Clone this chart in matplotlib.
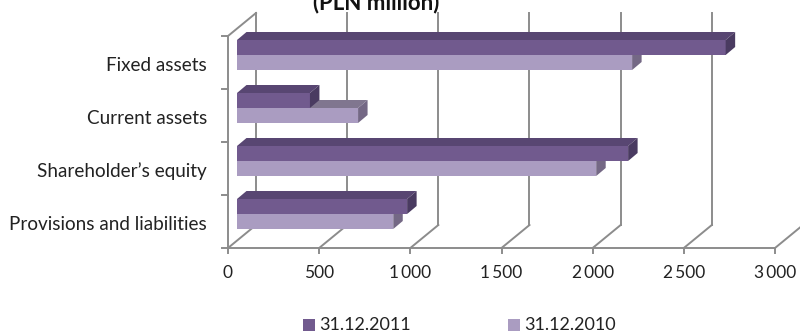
import matplotlib
matplotlib.use("Agg")
import matplotlib.pyplot as plt
from matplotlib.patches import Polygon
import numpy as np

categories = ["Provisions and liabilities", "Shareholder\u2019s equity", "Current assets", "Fixed assets"]
values_2011 = [933, 2145, 400, 2680]
values_2010 = [857, 1970, 664, 2167]
series_names = ["31.12.2011", "31.12.2010"]
xticks = [0, 500, 1000, 1500, 2000, 2500, 3000]
xtick_labels = ["0", "500", "1\u2009000", "1\u2009500", "2\u2009000", "2\u2009500", "3\u2009000"]
title = "(PLN million)"

plt.rcParams['font.family'] = ['Lato', 'DejaVu Sans']

W, H = 800, 334
fig = plt.figure(figsize=(W / 100, H / 100), dpi=100)
# front plane of the 3D box
x0px, x1px, ybot, ytop = 228, 775, 248, 36
ax = fig.add_axes([x0px / W, 1 - ybot / H, (x1px - x0px) / W, (ybot - ytop) / H])
XMAX = 3000
NC = len(categories)
ax.set_xlim(0, XMAX)
ax.set_ylim(0, NC)
ax.axis('off')

pxx = ax.bbox.width / XMAX   # pixels per x unit
pxy = ax.bbox.height / NC    # pixels per y unit
def off(dxp, dyp):
    return dxp / pxx, dyp / pxy

back = off(28, 23)
bfront = off(9, 7.5)
bback = off(18.5, 15.5)

grid_c = '#8C8C8C'
lw = 1.4
# back gridlines + floor diagonals
for v in xticks:
    ax.plot([v, v + back[0]], [0, back[1]], color=grid_c, lw=lw, clip_on=False, zorder=1)
    if v + back[0] < XMAX * 1.02:
        ax.plot([v + back[0], v + back[0]], [back[1], NC + back[1]], color=grid_c, lw=lw,
                clip_on=False, zorder=1)
    tdx, tdy = off(0, -5)
    ax.plot([v, v], [0, tdy], color=grid_c, lw=lw, clip_on=False, zorder=1)
for v, lab in zip(xticks, xtick_labels):
    ax.text(v, -24.5 / pxy, lab, ha='center', va='center', fontsize=12.5, color='#222222')
# floor front edge
ax.plot([0, XMAX], [0, 0], color=grid_c, lw=lw, clip_on=False, zorder=1)
# left wall front edge and top diagonal
ax.plot([0, 0], [0, NC], color=grid_c, lw=lw, clip_on=False, zorder=1)
ax.plot([0, back[0]], [NC, NC + back[1]], color=grid_c, lw=lw, clip_on=False, zorder=1)
tx, _ = off(-6, 0)
for i in range(NC + 1):
    ax.plot([tx, 0], [i, i], color=grid_c, lw=lw, clip_on=False, zorder=1)

# category labels
lx, _ = off(-21, 0)
for i, c in enumerate(categories):
    ax.text(lx, i + 0.5 - 3 / pxy, c, ha='right', va='center', fontsize=13.6, color='#222222')

bh = 15 / pxy
colors = {
    '2011': ('#715A8E', '#584672', '#4A3B61'),
    '2010': ('#AA9CC1', '#80768F', '#746885'),
}

def bar3d(y, w, h, cols, z):
    front, top, side = cols
    fx, fy = bfront
    bx, by = bback
    ax.add_patch(Polygon([(fx, y + fy), (w + fx, y + fy), (w + fx, y + h + fy), (fx, y + h + fy)],
                         closed=True, facecolor=front, edgecolor='none', zorder=z, clip_on=False))
    ax.add_patch(Polygon([(fx, y + h + fy), (w + fx, y + h + fy), (w + bx, y + h + by), (bx, y + h + by)],
                         closed=True, facecolor=top, edgecolor='none', zorder=z, clip_on=False))
    ax.add_patch(Polygon([(w + fx, y + fy), (w + bx, y + by), (w + bx, y + h + by), (w + fx, y + h + fy)],
                         closed=True, facecolor=side, edgecolor='none', zorder=z, clip_on=False))

for i in range(NC):
    yc = i + 0.5
    bar3d(yc - bh, values_2010[i], bh, colors['2010'], 3 + i * 2)
    bar3d(yc, values_2011[i], bh, colors['2011'], 4 + i * 2)

# title (partly cut at top, as in the reference)
fig.text(376 / W, 1 - 9 / H, title, ha='center', va='baseline', fontsize=16, fontweight='bold',
         color='#111111')

# legend
leg_x = [303, 508]
for (name, key, lxp) in zip(series_names, ['2011', '2010'], leg_x):
    fig.patches.append(plt.Rectangle((lxp / W, 1 - 331 / H), 12 / W, 12 / H, transform=fig.transFigure,
                                     facecolor=colors[key][0], edgecolor='none'))
    fig.text((lxp + 16) / W, 1 - 325 / H, name, ha='left', va='center', fontsize=13, color='#222222')

fig.savefig("out.png", dpi=100)
